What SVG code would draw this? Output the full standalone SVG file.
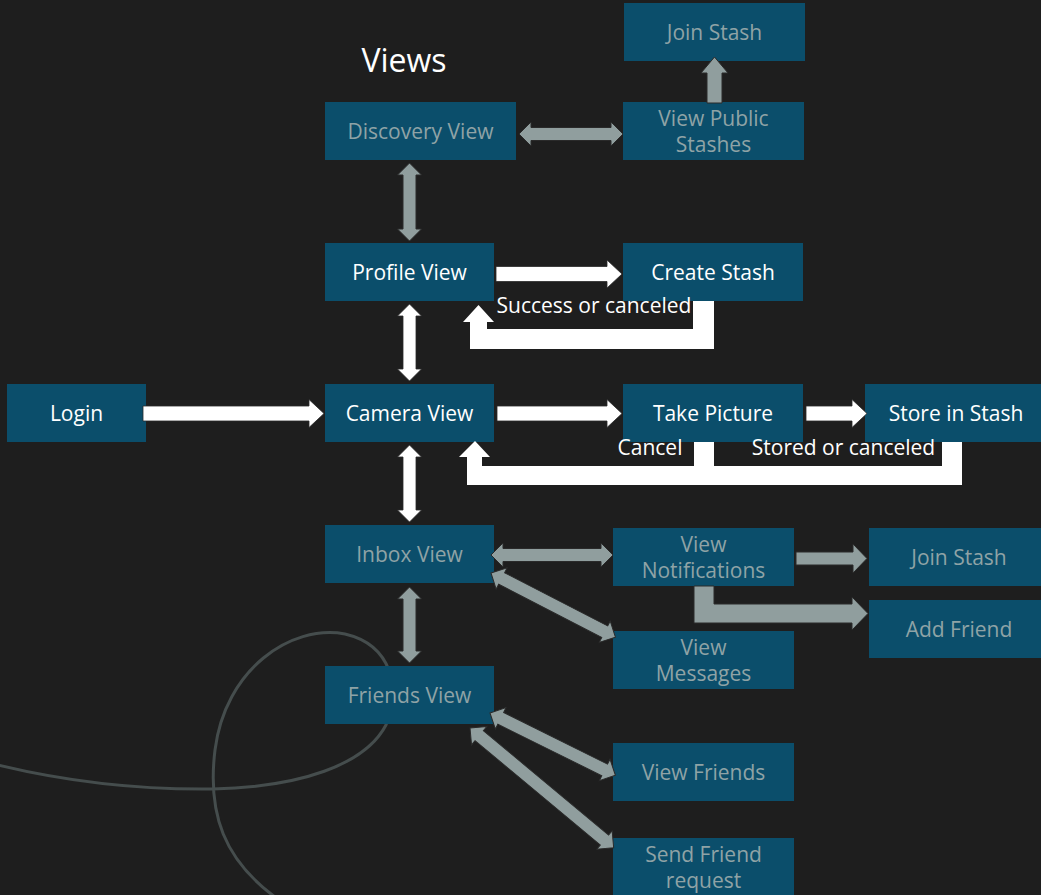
<svg xmlns="http://www.w3.org/2000/svg" width="1041" height="895" viewBox="0 0 1041 895">
<style>
.bg{fill:#1e1e1e}
.box{fill:#0b4e6b}
text{font-family:"Open Sans","Noto Sans","DejaVu Sans",sans-serif;font-size:21px;text-anchor:middle}
.w{fill:#ffffff}
.g{fill:#8fa3a6}
.ga{fill:#909e9e;stroke:#2a2a2a;stroke-width:1}
.wa{fill:#ffffff;stroke:#2a2a2a;stroke-width:0.8}
.wl{fill:#ffffff}
.curve{fill:none;stroke:#454d4d;stroke-width:3}
</style>
<rect class="bg" x="0" y="0" width="1041" height="895"/>
<g id="decor">
<path class="curve" d="M-2,765 C 60,780 130,790 213,789 C 300,787 365,765 386,725 C 402,690 392,645 345,634 C 290,624 225,670 215,750 C 207,815 225,860 275,897"/>
</g>
<text x="404" y="72" class="w" style="font-size:32px">Views</text>
<g id="join-stash-top"><rect class="box" x="624" y="3" width="181" height="58"/><text class="g" x="714.5" y="39.5">Join Stash</text></g>
<g id="discovery-view"><rect class="box" x="325" y="102" width="191" height="58"/><text class="g" x="420.5" y="138.5">Discovery View</text></g>
<g id="view-public-stashes"><rect class="box" x="623" y="102" width="181" height="58"/><text class="g" x="713.5" y="126">View Public</text><text class="g" x="713.5" y="152">Stashes</text></g>
<g id="profile-view"><rect class="box" x="325" y="243" width="169" height="58"/><text class="w" x="409.5" y="279.5">Profile View</text></g>
<g id="create-stash"><rect class="box" x="623" y="243" width="180" height="58"/><text class="w" x="713" y="279.5">Create Stash</text></g>
<g id="login"><rect class="box" x="7" y="384" width="139" height="58"/><text class="w" x="76.5" y="420.5">Login</text></g>
<g id="camera-view"><rect class="box" x="325" y="384" width="169" height="58"/><text class="w" x="409.5" y="420.5">Camera View</text></g>
<g id="take-picture"><rect class="box" x="623" y="384" width="180" height="58"/><text class="w" x="713" y="420.5">Take Picture</text></g>
<g id="store-in-stash"><rect class="box" x="865" y="384" width="182" height="58"/><text class="w" x="956" y="420.5">Store in Stash</text></g>
<g id="inbox-view"><rect class="box" x="325" y="525" width="169" height="58"/><text class="g" x="409.5" y="561.5">Inbox View</text></g>
<g id="view-notifications"><rect class="box" x="613" y="528" width="181" height="58"/><text class="g" x="703.5" y="552">View</text><text class="g" x="703.5" y="578">Notifications</text></g>
<g id="join-stash-right"><rect class="box" x="869" y="528" width="180" height="58"/><text class="g" x="959" y="564.5">Join Stash</text></g>
<g id="add-friend"><rect class="box" x="869" y="600" width="180" height="58"/><text class="g" x="959" y="636.5">Add Friend</text></g>
<g id="view-messages"><rect class="box" x="613" y="631" width="181" height="58"/><text class="g" x="703.5" y="655">View</text><text class="g" x="703.5" y="681">Messages</text></g>
<g id="friends-view"><rect class="box" x="325" y="666" width="169" height="58"/><text class="g" x="409.5" y="702.5">Friends View</text></g>
<g id="view-friends"><rect class="box" x="613" y="743" width="181" height="58"/><text class="g" x="703.5" y="779.5">View Friends</text></g>
<g id="send-friend-request"><rect class="box" x="613" y="838" width="181" height="62"/><text class="g" x="703.5" y="862">Send Friend</text><text class="g" x="703.5" y="888">request</text></g>
<g id="connectors">
<polygon class="ga" transform="translate(519,134)" points="0,0 12,-12 12,-6.5 92,-6.5 92,-12 104,0 92,12 92,6.5 12,6.5 12,12"/>
<polygon class="ga" transform="translate(409.5,163) rotate(90)" points="0,0 12,-12 12,-6.5 66,-6.5 66,-12 78,0 66,12 66,6.5 12,6.5 12,12"/>
<polygon class="ga" transform="translate(491,555)" points="0,0 12,-12 12,-6.5 110,-6.5 110,-12 122,0 110,12 110,6.5 12,6.5 12,12"/>
<polygon class="ga" transform="translate(491,573) rotate(27.3)" points="0,0 12,-12 12,-6.5 128,-6.5 128,-12 140,0 128,12 128,6.5 12,6.5 12,12"/>
<polygon class="ga" transform="translate(409.5,587) rotate(90)" points="0,0 12,-12 12,-6.5 64,-6.5 64,-12 76,0 64,12 64,6.5 12,6.5 12,12"/>
<polygon class="ga" transform="translate(490,713) rotate(26.4)" points="0,0 12,-12 12,-6.5 128,-6.5 128,-12 140,0 128,12 128,6.5 12,6.5 12,12"/>
<polygon class="ga" transform="translate(470,728) rotate(39.8)" points="0,0 12,-12 12,-6.5 175,-6.5 175,-12 187,0 175,12 175,6.5 12,6.5 12,12"/>
<polygon class="ga" transform="translate(714.5,103) rotate(-90)" points="0,-7.5 30,-7.5 30,-13.5 46,0 30,13.5 30,7.5 0,7.5"/>
<polygon class="ga" transform="translate(796,558.5)" points="0,-6.5 57,-6.5 57,-14.5 71,0 57,14.5 57,6.5 0,6.5"/>
<polygon class="ga" points="694,586 714,586 714,604 852,604 852,597 868,613.5 852,630 852,623 694,623"/>
<polygon class="wa" transform="translate(409.5,304) rotate(90)" points="0,0 12,-12 12,-6.5 65,-6.5 65,-12 77,0 65,12 65,6.5 12,6.5 12,12"/>
<polygon class="wa" transform="translate(409.5,445) rotate(90)" points="0,0 12,-12 12,-6.5 65,-6.5 65,-12 77,0 65,12 65,6.5 12,6.5 12,12"/>
<polygon class="wa" transform="translate(143,413.5)" points="0,-7.5 166,-7.5 166,-14 181,0 166,14 166,7.5 0,7.5"/>
<polygon class="wa" transform="translate(497,413.5)" points="0,-7.5 110,-7.5 110,-14 125,0 110,14 110,7.5 0,7.5"/>
<polygon class="wa" transform="translate(806,413.5)" points="0,-7.5 46,-7.5 46,-14 61,0 46,14 46,7.5 0,7.5"/>
<polygon class="wa" transform="translate(496,274)" points="0,-7.5 111,-7.5 111,-14 126,0 111,14 111,7.5 0,7.5"/>
<polygon class="wl" points="693,301 714,301 714,349 470,349 470,322 463,322 478.5,305 494,322 487,322 487,329 693,329"/>
<polygon class="wl" points="942,442 962,442 962,485 467,485 467,457 459,457 475,441 490,457 482,457 482,466 694,466 694,442 714,442 714,466 942,466"/>
<text class="w" x="594" y="313">Success or canceled</text>
<text class="w" x="650" y="455">Cancel</text>
<text class="w" x="843.5" y="455">Stored or canceled</text>
</g>
</svg>
